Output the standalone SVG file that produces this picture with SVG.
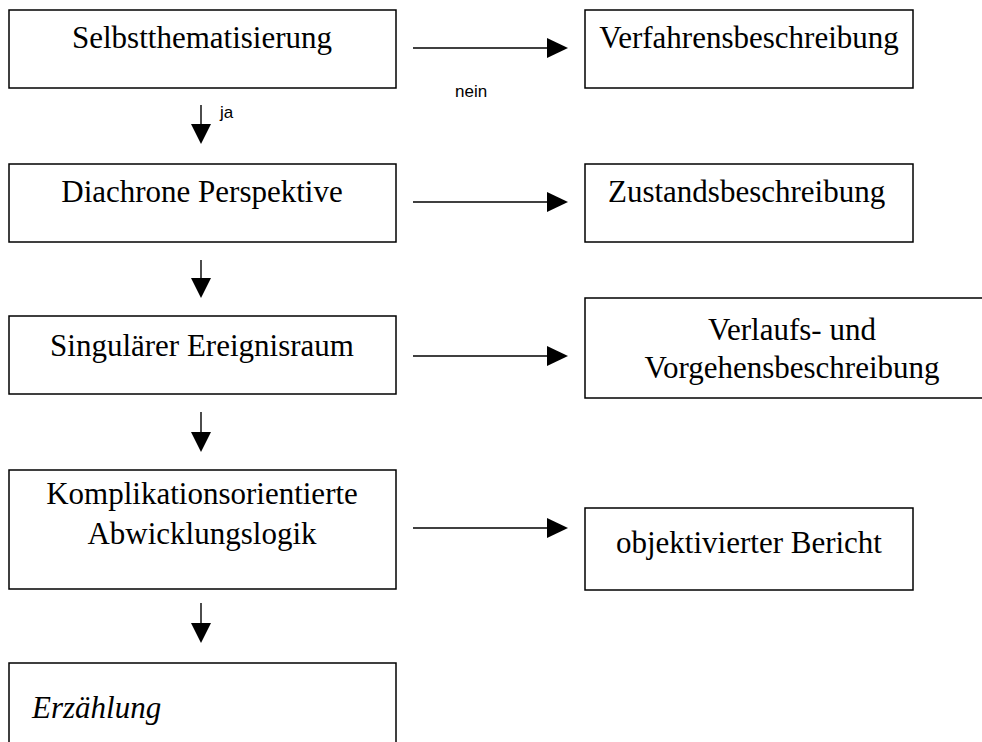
<svg xmlns="http://www.w3.org/2000/svg" width="982" height="742" viewBox="0 0 982 742">
<defs>
<style>
.box{fill:#fff;stroke:#000;stroke-width:1.5}
.t{font-family:"Liberation Serif","Times New Roman",serif;font-size:31px;fill:#000}
.c{text-anchor:middle}
.lbl{font-family:"Liberation Sans",Arial,sans-serif;font-size:17px;fill:#000}
.ln{stroke:#000;stroke-width:1.4;fill:none}
.hd{fill:#000}
</style>
</defs>
<rect width="982" height="742" fill="#fff"/>
<g id="n1"><rect class="box" x="9" y="10" width="387" height="78"/><text class="t c" x="202" y="48">Selbstthematisierung</text></g>
<g id="n2"><rect class="box" x="585" y="10" width="328" height="78"/><text class="t c" x="749" y="48">Verfahrensbeschreibung</text></g>
<g id="n3"><rect class="box" x="9" y="164" width="387" height="78"/><text class="t c" x="202" y="202">Diachrone Perspektive</text></g>
<g id="n4"><rect class="box" x="585" y="164" width="328" height="78"/><text class="t" x="608" y="202">Zustandsbeschreibung</text></g>
<g id="n5"><rect class="box" x="9" y="316" width="387" height="78"/><text class="t c" x="202" y="356">Singulärer Ereignisraum</text></g>
<g id="n6"><rect class="box" x="585" y="298" width="420" height="100"/><text class="t c" x="792" y="340">Verlaufs- und</text><text class="t c" x="792" y="378">Vorgehensbeschreibung</text></g>
<g id="n7"><rect class="box" x="9" y="470" width="387" height="119"/><text class="t c" x="202" y="504">Komplikationsorientierte</text><text class="t c" x="202" y="544">Abwicklungslogik</text></g>
<g id="n8"><rect class="box" x="585" y="508" width="328" height="82"/><text class="t c" x="749" y="553">objektivierter Bericht</text></g>
<g id="n9"><rect class="box" x="9" y="663" width="387" height="100"/><text class="t" x="32" y="718" font-style="italic">Erzählung</text></g>
<g id="connectors">
<line class="ln" x1="413" y1="48" x2="550" y2="48"/><polygon class="hd" points="547,38 568,48 547,58"/>
<line class="ln" x1="413" y1="202" x2="550" y2="202"/><polygon class="hd" points="547,192 568,202 547,212"/>
<line class="ln" x1="413" y1="356" x2="550" y2="356"/><polygon class="hd" points="547,346 568,356 547,366"/>
<line class="ln" x1="413" y1="528" x2="550" y2="528"/><polygon class="hd" points="547,518 568,528 547,538"/>
<line class="ln" x1="201" y1="105" x2="201" y2="126"/><polygon class="hd" points="191,124 211,124 201,144"/>
<line class="ln" x1="201" y1="260" x2="201" y2="280"/><polygon class="hd" points="191,278 211,278 201,298"/>
<line class="ln" x1="201" y1="412" x2="201" y2="434"/><polygon class="hd" points="191,432 211,432 201,452"/>
<line class="ln" x1="201" y1="603" x2="201" y2="625"/><polygon class="hd" points="191,623 211,623 201,643"/>
<text class="lbl" x="455" y="97">nein</text>
<text class="lbl" x="220" y="118">ja</text>
</g>
</svg>
